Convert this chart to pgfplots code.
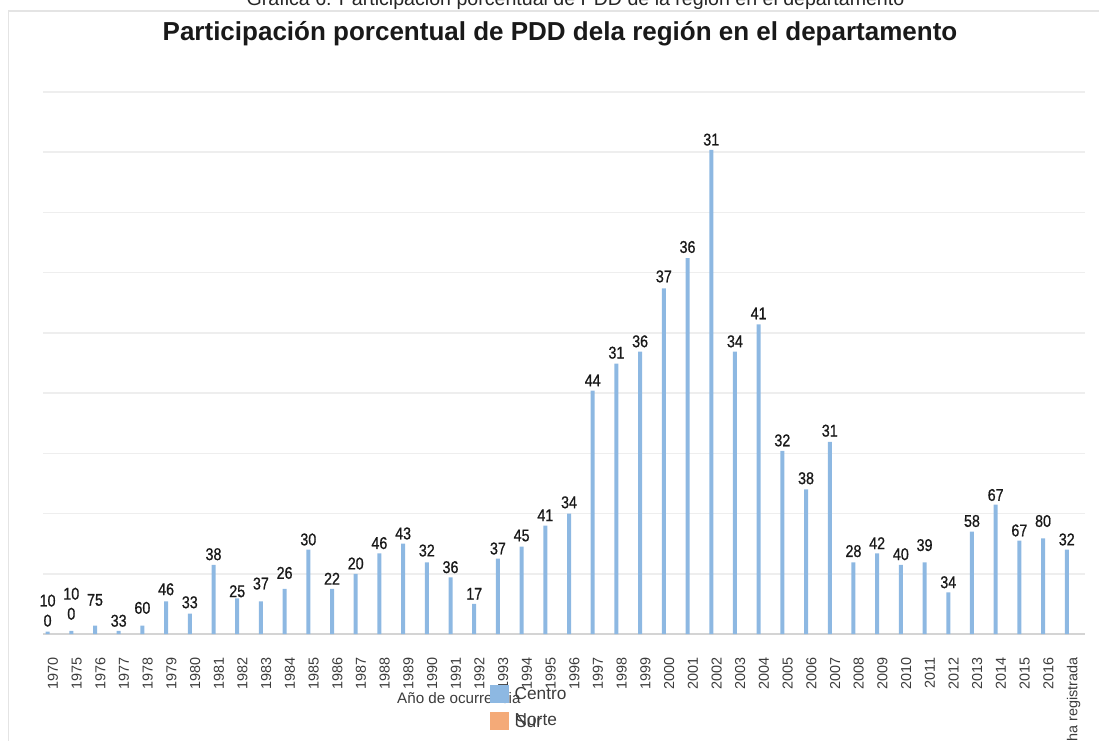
\documentclass[border=0pt]{standalone}
\usepackage{fontspec}
\setmainfont{Liberation Sans}
\newfontfamily\labfont[FakeStretch=0.84, FakeBold=0.8]{Liberation Sans}
\usepackage{pgfplots}
\pgfplotsset{compat=1.18}
\usepackage{pgfplotstable}
\definecolor{barblue}{RGB}{141,184,226}
\definecolor{legorange}{RGB}{244,170,120}
\definecolor{gridgray}{RGB}{238,238,238}
\definecolor{basegray}{RGB}{212,212,212}
\definecolor{framegray}{RGB}{228,228,228}
\definecolor{ticktext}{RGB}{60,60,60}
\definecolor{labtext}{RGB}{25,25,25}
\def\dz{\shortstack{10\\[5pt]0}}

\pgfplotstableread{
x y sh lab
0 0.4 4.7 \dz
1 0.5 11 \dz
2 1.4 19.5 75
3 0.5 4 33
4 1.4 11.5 60
5 5.4 6 46
6 3.4 5 33
7 11.5 4.3 38
8 5.9 1 25
9 5.4 11.7 37
10 7.5 9.7 26
11 14.0 4 30
12 7.5 4 22
13 10.0 4 20
14 13.4 4 46
15 15.0 4 43
16 11.9 5.6 32
17 9.4 4 36
18 5.0 4 17
19 12.5 4 37
20 14.5 5 45
21 18.0 4.3 41
22 20.0 5 34
23 40.4 4.3 44
24 44.9 4.7 31
25 46.9 4 36
26 57.4 5.7 37
27 62.4 5 36
28 80.4 4 31
29 46.9 4 34
30 51.4 5 41
31 30.4 4.3 32
32 24.0 5 38
33 31.9 5 31
34 11.9 5 28
35 13.4 4 42
36 11.5 4.3 40
37 11.9 11 39
38 6.9 4 34
39 17.0 4.4 58
40 21.5 3.3 67
41 15.5 4 67
42 15.9 11 80
43 14.0 4 32
}\centrotab

\begin{document}
\begin{tikzpicture}[x=1pt,y=1pt]
\path[use as bounding box] (0,0) rectangle (1099,740);
\draw[framegray, line width=1.5pt] (8.5,-10) -- (8.5,729) -- (1110,729);
\node[anchor=base, font=\fontsize{19.6}{22}\selectfont, text=black!85] at (575.5,734.5) {Gráfica 6. Participación porcentual de PDD de la región en el departamento};
\node[anchor=base, font=\bfseries\fontsize{26}{30}\selectfont, text=black!90] at (560,699) {Participación porcentual de PDD dela región en el departamento};
\begin{axis}[
  at={(43pt,106pt)}, anchor=south west,
  scale only axis, width=1042pt, height=542pt,
  xmin=-0.194, xmax=43.77, ymin=0, ymax=90,
  axis line style={draw=none},
  major tick length=0pt,
  ytick={10,20,...,90}, yticklabels={},
  ymajorgrids, grid style={gridgray, line width=1.5pt},
  extra y ticks={0}, extra y tick labels={},
  extra y tick style={grid style={basegray, line width=1.7pt}},
  xtick={0,...,43},
  xticklabels={1970,1975,1976,1977,1978,1979,1980,1981,1982,1983,1984,1985,1986,1987,1988,1989,1990,1991,1992,1993,1994,1995,1996,1997,1998,1999,2000,2001,2002,2003,2004,2005,2006,2007,2008,2009,2010,2011,2012,2013,2014,2015,2016,Sin fecha registrada},
  xticklabel style={rotate=90, anchor=north east, inner sep=0pt, font=\fontsize{14.4}{16}\selectfont, text=ticktext},
  xticklabel shift=23pt,
  xlabel={Año de ocurrencia},
  xlabel style={at={(0.3397,-0.1273)}, anchor=base west, inner sep=0pt, font=\fontsize{15.2}{17}\selectfont, text=ticktext},
  clip=false,
  legend style={at={(0.4290,-0.0941)}, anchor=north west, draw=none, fill=none, inner sep=0pt, row sep=9pt, font=\fontsize{17.3}{20}\selectfont, text=ticktext, nodes={inner sep=0pt}},
  legend cell align=left,
]
\addplot[ybar, bar width=4pt, bar shift=0pt, fill=barblue, draw=none, forget plot,
  point meta=explicit symbolic,
  nodes near coords,
  visualization depends on={\thisrow{sh} \as \labsh},
  every node near coord/.style={anchor=south, inner sep=0pt, yshift=\labsh pt, font=\labfont\fontsize{17}{19}\selectfont, text=labtext},
] table[x=x, y=y, meta=lab] {\centrotab};
\addlegendimage{legend image code/.code={\fill[barblue] (0pt,-8.5pt) rectangle (18pt,8.5pt); \path (24pt,0pt);}}
\addlegendentry{Centro}
\addlegendimage{legend image code/.code={\fill[legorange] (0pt,-8.5pt) rectangle (18pt,8.5pt); \path (24pt,0pt);}}
\addlegendentry{Norte}
\end{axis}
\node[anchor=base west, inner sep=0pt, font=\fontsize{17.3}{20}\selectfont, text=ticktext] at (515,13) {Sur};
\end{tikzpicture}
\end{document}
